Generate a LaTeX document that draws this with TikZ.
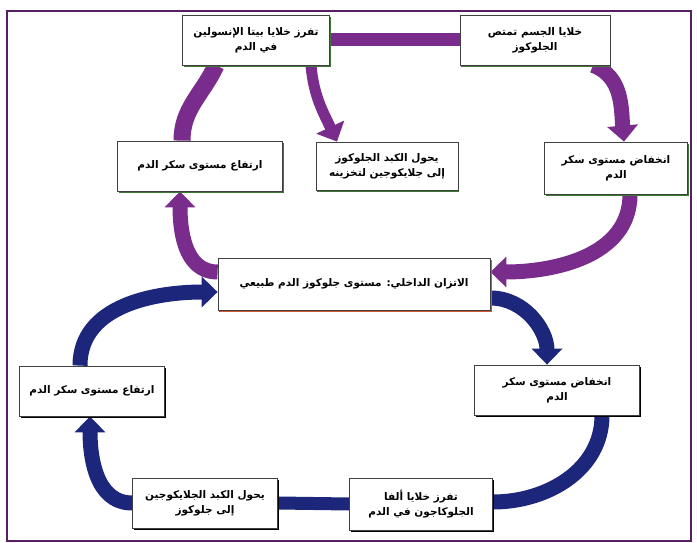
\documentclass[tikz,border=0pt]{standalone}
\usepackage{fontspec}
\newfontfamily\arabicfont[Script=Arabic]{DejaVu Sans}
\TeXXeTstate=1
\usetikzlibrary{arrows.meta,shadows,backgrounds}
\definecolor{cyclepurple}{RGB}{122,44,140}
\definecolor{cycleblue}{RGB}{28,38,122}
\definecolor{shadegreen}{RGB}{62,118,52}
\definecolor{shadered}{RGB}{214,86,48}
\newcommand{\ar}[1]{{\arabicfont\bfseries\beginR #1\endR}}
\tikzset{
  stagebox/.style={draw=black!75, fill=white, line width=0.8pt, align=center,
    font=\fontsize{10.5}{15}\selectfont, minimum height=50pt,
    drop shadow={shadow xshift=1pt, shadow yshift=-2pt, fill=shadegreen, opacity=1}},
  lowbox/.style={stagebox,
    drop shadow={shadow xshift=1pt, shadow yshift=-2pt, fill=black, opacity=1}},
  cyclearrow/.style={line width=15pt, -{Triangle[width=30pt,length=16pt]}},
  cyclebar/.style={line width=13pt},
}
\begin{document}
\begin{tikzpicture}[x=1pt,y=-1pt]
  \useasboundingbox (0,0) rectangle (697,543);
  \draw[cyclepurple!70!black, line width=1.5pt] (7,11) rectangle (691,541);

  % upper cycle: high sugar
  \node[stagebox, minimum width=147pt] (insulin) at (256,40)
    {\ar{تفرز خلايا بيتا الإنسولين}\\ \ar{في الدم}};
  \node[stagebox, minimum width=150pt] (absorb) at (535,40)
    {\ar{خلايا الجسم تمتص}\\ \ar{الجلوكوز}};
  \node[stagebox, minimum width=142pt, minimum height=48pt] (store) at (387,166)
    {\ar{يحول الكبد الجلوكوز}\\ \ar{إلى جلايكوجين لتخزينه}};
  \node[stagebox, minimum width=143pt, minimum height=52pt] (fallup) at (616,168)
    {\ar{انخفاض مستوى سكر}\\ \ar{الدم}};
  \node[stagebox, minimum width=165pt] (riseup) at (200,166)
    {\ar{ارتفاع مستوى سكر الدم}};

  % balance
  \node[stagebox, minimum width=272pt, minimum height=52pt,
    drop shadow={shadow xshift=1.5pt, shadow yshift=-2pt, fill=shadered, opacity=1}]
    (balance) at (354,284) {\ar{الاتزان الداخلي: مستوى جلوكوز الدم طبيعي}};

  % lower cycle: low sugar
  \node[lowbox, minimum width=165pt] (falldown) at (557,390)
    {\ar{انخفاض مستوى سكر}\\ \ar{الدم}};
  \node[lowbox, minimum width=145pt] (risedown) at (92,391)
    {\ar{ارتفاع مستوى سكر الدم}};
  \node[lowbox, minimum width=145pt] (release) at (205,503)
    {\ar{يحول الكبد الجلايكوجين}\\ \ar{إلى جلوكوز}};
  \node[lowbox, minimum width=143pt, minimum height=52pt] (glucagon) at (421,504)
    {\ar{تفرز خلايا ألفا}\\ \ar{الجلوكاجون في الدم}};

  \begin{scope}[on background layer]
    % purple arrows
    \draw[cyclepurple, cyclebar] (insulin.east) -- (absorb.west);
    \draw[cyclepurple, line width=17pt] ([xshift=-18pt]riseup.north)
      to[out=90, in=-115] ([xshift=-40pt]insulin.south);
    \draw[cyclepurple, cyclearrow] ([yshift=12pt]balance.west)
      to[out=180, in=-90] ([xshift=-20pt]riseup.south);
    \draw[cyclepurple, cyclearrow, line width=11pt] ([xshift=55pt]insulin.south)
      to[out=-85, in=115] ([xshift=-50pt]store.north);
    \draw[cyclepurple, cyclearrow] ([xshift=58pt]absorb.south)
      to[out=-20, in=95] ([xshift=8pt]fallup.north);
    \draw[cyclepurple, cyclearrow] ([xshift=14pt]fallup.south)
      to[out=-90, in=0] ([yshift=12pt]balance.east);
    % blue arrows
    \draw[cycleblue, cyclearrow] ([yshift=-14pt]balance.east)
      to[out=0, in=90] ([xshift=-10pt]falldown.north);
    \draw[cycleblue, line width=15pt] ([xshift=45pt]falldown.south)
      to[out=-90, in=0] ([yshift=2pt]glucagon.east);
    \draw[cycleblue, cyclebar] (glucagon.west) -- (release.east);
    \draw[cycleblue, cyclearrow] (release.west)
      to[out=180, in=-90] ([xshift=-2pt]risedown.south);
    \draw[cycleblue, cyclearrow] ([xshift=-12pt]risedown.north)
      to[out=90, in=180] ([yshift=-8pt]balance.west);
  \end{scope}
\end{tikzpicture}
\end{document}
